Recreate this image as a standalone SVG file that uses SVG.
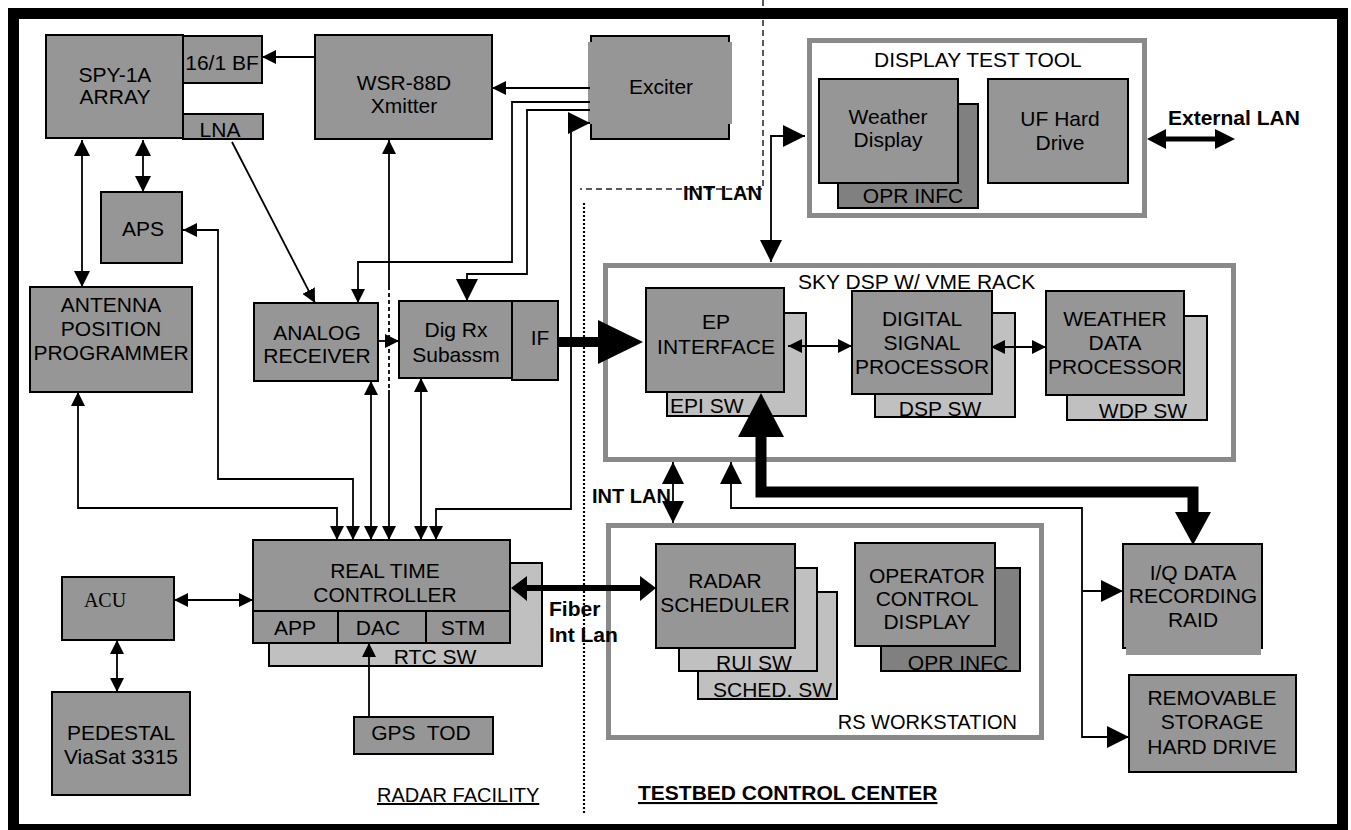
<svg xmlns="http://www.w3.org/2000/svg" width="1351" height="830" viewBox="0 0 1351 830">
<style>
.n{fill:#969696;stroke:#000;stroke-width:2}
.s{fill:#c0c0c0;stroke:#000;stroke-width:2}
.d{fill:#808080;stroke:#000;stroke-width:2}
.c{fill:#fff;stroke:#8a8a8a;stroke-width:5}
.g{fill:#969696;stroke:none}
.k{fill:none;stroke:#000;stroke-width:2}
text{font-family:"Liberation Sans",Arial,sans-serif;font-size:21px;fill:#000}
.m{text-anchor:middle}
.e{text-anchor:end}
.b{font-weight:bold}
.u{text-decoration:underline}
.sf{font-family:"Liberation Serif","Times New Roman",serif;font-size:20px}
.l{fill:none;stroke:#000;stroke-width:1.8}
.f{fill:#000;stroke:none}
</style>
<defs>
<marker id="a" viewBox="0 0 14 14" refX="14" refY="7" markerWidth="14" markerHeight="14" markerUnits="userSpaceOnUse" orient="auto-start-reverse"><path d="M0,0L14,7L0,14z"/></marker>
<marker id="m" viewBox="0 0 16 16" refX="16" refY="8" markerWidth="16" markerHeight="16" markerUnits="userSpaceOnUse" orient="auto-start-reverse"><path d="M0,0L16,8L0,16z"/></marker>
<marker id="A" viewBox="0 0 22 22" refX="22" refY="11" markerWidth="22" markerHeight="22" markerUnits="userSpaceOnUse" orient="auto-start-reverse"><path d="M0,0L22,11L0,22z"/></marker>
</defs>
<rect x="0" y="0" width="1351" height="830" fill="#fff"/>

<g id="boundaries">
<path d="M763,0V189H580" fill="none" stroke="#222" stroke-width="1.5" stroke-dasharray="6 4"/>
<path d="M584,203V815" fill="none" stroke="#000" stroke-width="2.2" stroke-dasharray="2 2"/>
</g>

<rect id="frame" x="13.5" y="13.5" width="1329" height="816" fill="none" stroke="#000" stroke-width="11"/>

<g id="display-test-tool">
<rect class="c" x="809.5" y="40.5" width="335" height="175"/>
<text x="874" y="67">DISPLAY TEST TOOL</text>
</g>
<g id="sky-dsp-rack">
<rect class="c" x="605.5" y="265.5" width="628" height="194"/>
<text x="798" y="289">SKY DSP W/ VME RACK</text>
</g>
<g id="rs-workstation">
<rect class="c" x="608.5" y="525.5" width="433" height="212"/>
<text class="e" x="1017" y="729" style="font-size:20px">RS WORKSTATION</text>
</g>

<g id="spy1a">
<rect class="n" x="46" y="35" width="137" height="103"/>
<text class="m" x="115" y="82">SPY-1A</text>
<text class="m" x="115" y="104">ARRAY</text>
</g>
<g id="bf">
<rect class="n" x="183" y="36" width="79" height="47"/>
<text class="m" x="222" y="70">16/1 BF</text>
</g>
<g id="lna">
<rect class="n" x="183" y="114" width="80" height="25"/>
<text class="m" x="220" y="137">LNA</text>
</g>
<g id="wsr88d">
<rect class="n" x="315" y="35" width="177" height="104"/>
<text class="m" x="404" y="90">WSR-88D</text>
<text class="m" x="404" y="113">Xmitter</text>
</g>
<g id="exciter">
<rect class="n" x="591" y="36" width="138" height="103"/>
<rect class="g" x="588" y="42" width="144" height="82"/>
<text class="m" x="661" y="94">Exciter</text>
</g>
<g id="aps">
<rect class="n" x="101" y="192" width="81" height="71"/>
<text class="m" x="143" y="236">APS</text>
</g>
<g id="app">
<rect class="n" x="30" y="287" width="162" height="105"/>
<text class="m" x="111" y="312">ANTENNA</text>
<text class="m" x="111" y="336">POSITION</text>
<text class="m" x="111" y="360">PROGRAMMER</text>
</g>
<g id="analog-receiver">
<rect class="n" x="254" y="303" width="124" height="78"/>
<text class="m" x="317" y="340">ANALOG</text>
<text class="m" x="317" y="363">RECEIVER</text>
</g>
<g id="dig-rx">
<rect class="n" x="399" y="301" width="113" height="77"/>
<text class="m" x="456" y="337">Dig Rx</text>
<text class="m" x="456" y="362">Subassm</text>
<rect class="n" x="512" y="301" width="46" height="79"/>
<text class="m" x="540" y="345">IF</text>
</g>
<g id="rtc">
<rect class="s" x="269" y="563" width="273" height="103"/>
<rect class="n" x="253" y="540" width="257" height="103"/>
<path class="k" d="M253,611H510M338,611V643M426,611V643"/>
<text class="m" x="385" y="578">REAL TIME</text>
<text class="m" x="385" y="602">CONTROLLER</text>
<text class="m" x="295" y="635">APP</text>
<text class="m" x="378" y="635">DAC</text>
<text class="m" x="463" y="635">STM</text>
<text class="m" x="435" y="664">RTC SW</text>
</g>
<g id="acu">
<rect class="n" x="62" y="577" width="112" height="63"/>
<text class="m sf" x="105" y="607">ACU</text>
</g>
<g id="pedestal">
<rect class="n" x="52" y="692" width="138" height="103"/>
<text class="m" x="121" y="740">PEDESTAL</text>
<text class="m" x="121" y="764">ViaSat 3315</text>
</g>
<g id="gps-tod">
<rect class="n" x="354" y="717" width="139" height="37"/>
<text class="m" x="421" y="740">GPS&#160; TOD</text>
</g>
<g id="weather-display">
<rect class="d" x="838" y="104" width="140" height="104"/>
<rect class="n" x="819" y="79" width="139" height="104"/>
<text class="m" x="888" y="124">Weather</text>
<text class="m" x="888" y="147">Display</text>
<text class="m" x="913" y="203">OPR INFC</text>
</g>
<g id="uf-hard-drive">
<rect class="n" x="988" y="79" width="140" height="104"/>
<text class="m" x="1060" y="126">UF Hard</text>
<text class="m" x="1060" y="150">Drive</text>
</g>
<g id="ep-interface">
<rect class="s" x="667" y="313" width="139" height="103"/>
<rect class="n" x="646" y="288" width="138" height="104"/>
<text class="m" x="716" y="329">EP</text>
<text class="m" x="716" y="354">INTERFACE</text>
<text x="670" y="413">EPI SW</text>
</g>
<g id="dsp">
<rect class="s" x="875" y="313" width="140" height="104"/>
<rect class="n" x="852" y="291" width="140" height="103"/>
<text class="m" x="922" y="326">DIGITAL</text>
<text class="m" x="922" y="350">SIGNAL</text>
<text class="m" x="922" y="374">PROCESSOR</text>
<text class="m" x="940" y="416">DSP SW</text>
</g>
<g id="wdp">
<rect class="s" x="1067" y="316" width="140" height="104"/>
<rect class="n" x="1046" y="291" width="138" height="104"/>
<text class="m" x="1115" y="326">WEATHER</text>
<text class="m" x="1115" y="350">DATA</text>
<text class="m" x="1115" y="374">PROCESSOR</text>
<text class="m" x="1143" y="418">WDP SW</text>
</g>
<g id="radar-scheduler">
<rect class="s" x="698" y="592" width="139" height="107"/>
<rect class="s" x="679" y="568" width="138" height="103"/>
<rect class="n" x="656" y="544" width="139" height="104"/>
<text class="m" x="725" y="588">RADAR</text>
<text class="m" x="725" y="612">SCHEDULER</text>
<text class="m" x="754" y="670">RUI SW</text>
<text x="713" y="697">SCHED. SW</text>
</g>
<g id="operator-control-display">
<rect class="d" x="881" y="568" width="139" height="103"/>
<rect class="n" x="855" y="543" width="140" height="103"/>
<text class="m" x="927" y="583">OPERATOR</text>
<text class="m" x="927" y="606">CONTROL</text>
<text class="m" x="927" y="629">DISPLAY</text>
<text class="m" x="958" y="670">OPR INFC</text>
</g>
<g id="iq-raid">
<rect class="n" x="1123" y="544" width="139" height="104"/>
<rect class="g" x="1126" y="556" width="135" height="99"/>
<text class="m" x="1193" y="580">I/Q DATA</text>
<text class="m" x="1193" y="603">RECORDING</text>
<text class="m" x="1193" y="627">RAID</text>
</g>
<g id="removable-storage">
<rect class="n" x="1129" y="675" width="167" height="97"/>
<text class="m" x="1212" y="705">REMOVABLE</text>
<text class="m" x="1212" y="729">STORAGE</text>
<text class="m" x="1212" y="754">HARD DRIVE</text>
</g>

<g id="connectors">
<path class="l" d="M315,57H262" marker-end="url(#a)"/>
<path class="l" d="M590,88H492" marker-end="url(#a)"/>
<path class="l" d="M590,102H512V262H358V303" marker-end="url(#a)"/>
<path class="l" d="M590,110H527V274H467V301" marker-end="url(#A)"/>
<path class="l" d="M436,540V509H571V123H590" marker-start="url(#a)" marker-end="url(#A)"/>
<path class="l" d="M82,140V287" marker-start="url(#m)" marker-end="url(#m)"/>
<path class="l" d="M143,140V192" marker-start="url(#m)" marker-end="url(#m)"/>
<path class="l" d="M183,230H218V479H353V540" marker-start="url(#a)" marker-end="url(#a)"/>
<path class="l" d="M78,392V508H337V540" marker-start="url(#a)" marker-end="url(#a)"/>
<path class="l" d="M232,142L315,303" marker-end="url(#a)"/>
<path class="l" d="M371,381V540" marker-start="url(#a)" marker-end="url(#a)"/>
<path class="l" d="M389,140V540" marker-start="url(#a)" marker-end="url(#a)"/>
<path d="M389,290V390" fill="none" stroke="#fff" stroke-width="3" stroke-dasharray="3 4"/>
<path class="l" d="M378,341H399" marker-end="url(#a)"/>
<path class="l" d="M421,378V540" marker-start="url(#a)" marker-end="url(#a)"/>
<path class="l" d="M174,600H253" marker-start="url(#a)" marker-end="url(#a)"/>
<path class="l" d="M117,640V692" marker-start="url(#a)" marker-end="url(#a)"/>
<path class="l" d="M369,717V643" marker-end="url(#a)"/>
<path class="f" d="M558,337H598V320L643,342L598,364V347H558Z"/>
<path class="l" d="M771,262V136H805" marker-start="url(#A)" marker-end="url(#A)"/>
<path class="l" d="M673,462V523" marker-start="url(#A)" marker-end="url(#A)"/>
<path class="l" d="M788,346H852" marker-start="url(#a)" marker-end="url(#a)"/>
<path class="l" d="M991,347H1046" marker-start="url(#a)" marker-end="url(#a)"/>
<path d="M761,437V492H1193V513" fill="none" stroke="#000" stroke-width="11"/>
<path class="f" d="M738,437L761,393L784,437Z"/>
<path class="f" d="M1175,512H1211L1193,545Z"/>
<path class="l" d="M731,462V508H1082V737H1129" marker-start="url(#A)" marker-end="url(#A)"/>
<path class="l" d="M1082,591H1123" marker-end="url(#A)"/>
<path class="f" d="M511,588L527,576V585H640V576L656,588L640,601V591H527V601Z"/>
<path class="f" d="M1147,139L1166,129V136.5H1215V129L1235,139L1215,149V141.5H1166V149Z"/>
</g>

<g id="labels">
<text class="b" x="1168" y="125">External LAN</text>
<text class="b" x="683" y="200" style="font-size:20px">INT LAN</text>
<text class="b" x="592" y="503" style="font-size:20px">INT LAN</text>
<text class="b" x="549" y="616">Fiber</text>
<text class="b" x="549" y="642">Int Lan</text>
<text class="u" x="377" y="802" style="font-size:20px">RADAR FACILITY</text>
<text class="b u" x="638" y="800">TESTBED CONTROL CENTER</text>
</g>
</svg>
